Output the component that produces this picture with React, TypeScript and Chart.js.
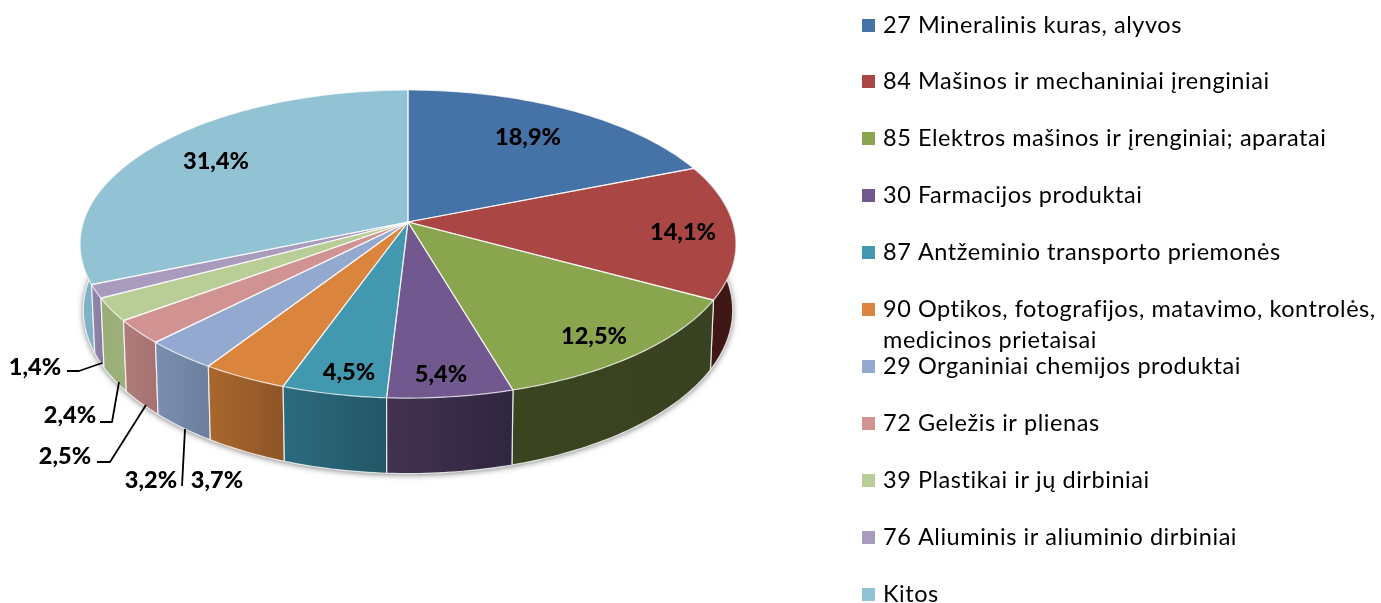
import React, { useEffect, useRef } from "react";
import { Chart, registerables } from "chart.js";

Chart.register(...registerables);

const categories: (string | string[])[] = [
  "27 Mineralinis kuras, alyvos",
  "84 Mašinos ir mechaniniai įrenginiai",
  "85 Elektros mašinos ir įrenginiai; aparatai",
  "30 Farmacijos produktai",
  "87 Antžeminio transporto priemonės",
  ["90 Optikos, fotografijos, matavimo, kontrolės,", "medicinos prietaisai"],
  "29 Organiniai chemijos produktai",
  "72 Geležis ir plienas",
  "39 Plastikai ir jų dirbiniai",
  "76 Aliuminis ir aliuminio dirbiniai",
  "Kitos",
];
const shares = [18.9, 14.1, 12.5, 5.4, 4.5, 3.7, 3.2, 2.5, 2.4, 1.4, 31.4];
const valueLabels = ["18,9%", "14,1%", "12,5%", "5,4%", "4,5%", "3,7%", "3,2%", "2,5%", "2,4%", "1,4%", "31,4%"];
const topColors = ["#4572A7", "#AA4643", "#89A54E", "#71588F", "#4198AF", "#DB843D", "#93A9CF", "#D19392", "#B9CD96", "#A99BBD", "#92C3D5"];
const wallLeft = ["#2f4d72", "#4e1f1d", "#3a4520", "#433252", "#2b6b7e", "#a9672d", "#7a8eb0", "#b07b7b", "#9aae78", "#9385ab", "#7fb2c5"];
const wallRight = ["#2f4d72", "#3f1715", "#384120", "#2f2640", "#235666", "#8f5527", "#6d7f9e", "#a87272", "#9db07a", "#8a7da2", "#7aa9bb"];

const labelSpots: [number, number][] = [
  [528, 137], [683, 232], [594, 336], [441, 374], [349, 372], [217, 480], [151, 480], [65, 456], [70, 415], [35, 367], [216, 161],
];
const leaders: [number, number][][] = [
  [[67, 371], [79, 371], [102, 363]],
  [[100, 422], [112, 422], [119, 382]],
  [[97, 462], [110, 462], [146, 405]],
  [[182, 486], [185, 429]],
];

const FONT = "Lato, Carlito, Calibri, sans-serif";

// perspective projection of the pie's disc
const CX = 408, CY = 222, AX = 324.6, BY = 150.9, K = 0.143;
const topPt = (t: number): [number, number] => {
  const u = Math.sin(t), v = Math.cos(t), w = 1 + K * v;
  return [CX + (AX * u) / w, CY - (BY * v) / w];
};
const botPt = (t: number): [number, number] => {
  const [x, y] = topPt(t);
  return [CX + (x - CX) * 0.99, 473.5 + (y - 398) * 1.06];
};
const toTheta = (a: number) => a + Math.PI / 2;
const samples = (a: number, b: number) => {
  const n = Math.max(2, Math.ceil(((b - a) * 180) / Math.PI));
  return Array.from({ length: n + 1 }, (_, i) => a + ((b - a) * i) / n);
};

const perspectivePie = {
  id: "perspectivePie",
  beforeDatasetsDraw(chart: any) {
    const ctx: CanvasRenderingContext2D = chart.ctx;
    const arcs = chart.getDatasetMeta(0).data as any[];
    const bg = chart.data.datasets[0].backgroundColor as string[];
    const lo = (70 * Math.PI) / 180, hi = (290 * Math.PI) / 180;

    // soft shadow under the body
    ctx.save();
    ctx.shadowColor = "rgba(0,0,0,0.55)";
    ctx.shadowBlur = 6;
    ctx.shadowOffsetX = 0;
    ctx.shadowOffsetY = 1;
    ctx.fillStyle = "#888";
    ctx.beginPath();
    samples(lo, hi).forEach((t, i) => {
      const p = botPt(t);
      i ? ctx.lineTo(p[0], p[1]) : ctx.moveTo(p[0], p[1]);
    });
    ctx.closePath();
    ctx.fill();
    ctx.restore();

    // outer walls, from the sides towards the front
    const order = arcs
      .map((arc, i) => ({ i, a: Math.max(toTheta(arc.startAngle), lo), b: Math.min(toTheta(arc.endAngle), hi) }))
      .filter((s) => s.b > s.a)
      .sort((p, q) => Math.abs((q.a + q.b) / 2 - Math.PI) - Math.abs((p.a + p.b) / 2 - Math.PI));
    order.forEach(({ i, a, b }) => {
      const ts = samples(a, b);
      const x0 = topPt(a)[0], x1 = topPt(b)[0];
      const g = ctx.createLinearGradient(Math.min(x0, x1), 0, Math.max(x0, x1), 0);
      g.addColorStop(0, wallLeft[i]);
      g.addColorStop(1, wallRight[i]);
      ctx.beginPath();
      ts.forEach((t, j) => {
        const p = topPt(t);
        j ? ctx.lineTo(p[0], p[1]) : ctx.moveTo(p[0], p[1]);
      });
      ts.slice().reverse().forEach((t) => {
        const p = botPt(t);
        ctx.lineTo(p[0], p[1]);
      });
      ctx.closePath();
      ctx.fillStyle = g;
      ctx.fill();
      ctx.strokeStyle = "rgba(255,255,255,0.8)";
      ctx.lineWidth = 1.2;
      ctx.beginPath();
      const startEdge = botPt(a), startTop = topPt(a), endEdge = botPt(b), endTop = topPt(b);
      if (a > lo) {
        ctx.moveTo(startTop[0], startTop[1]);
        ctx.lineTo(startEdge[0], startEdge[1]);
      }
      if (b < hi) {
        ctx.moveTo(endTop[0], endTop[1]);
        ctx.lineTo(endEdge[0], endEdge[1]);
      }
      ts.forEach((t, j) => {
        const p = botPt(t);
        j ? ctx.lineTo(p[0], p[1]) : ctx.moveTo(p[0], p[1]);
      });
      ctx.stroke();
    });

    // top face
    arcs.forEach((arc, i) => {
      const a = toTheta(arc.startAngle), b = toTheta(arc.endAngle);
      ctx.beginPath();
      ctx.moveTo(CX, CY);
      samples(a, b).forEach((t) => {
        const p = topPt(t);
        ctx.lineTo(p[0], p[1]);
      });
      ctx.closePath();
      ctx.fillStyle = bg[i];
      ctx.fill();
    });
    arcs.forEach((arc) => {
      const a = toTheta(arc.startAngle), b = toTheta(arc.endAngle);
      ctx.beginPath();
      ctx.moveTo(CX, CY);
      samples(a, b).forEach((t) => {
        const p = topPt(t);
        ctx.lineTo(p[0], p[1]);
      });
      ctx.closePath();
      ctx.strokeStyle = "rgba(255,255,255,0.75)";
      ctx.lineWidth = 1.2;
      ctx.lineJoin = "round";
      ctx.stroke();
    });
    return false;
  },
  afterDraw(chart: any) {
    const ctx: any = chart.ctx;
    ctx.save();

    // leader lines
    ctx.strokeStyle = "#000";
    ctx.lineWidth = 1.8;
    leaders.forEach((line) => {
      ctx.beginPath();
      line.forEach((p, i) => (i ? ctx.lineTo(p[0], p[1]) : ctx.moveTo(p[0], p[1])));
      ctx.stroke();
    });

    // value labels
    ctx.fillStyle = "#000";
    ctx.font = `900 23.5px ${FONT}`;
    ctx.textAlign = "center";
    ctx.textBaseline = "middle";
    valueLabels.forEach((s, i) => ctx.fillText(s, labelSpots[i][0], labelSpots[i][1]));

    // legend
    const bg = chart.data.datasets[0].backgroundColor as string[];
    ctx.font = `23.5px ${FONT}`;
    ctx.letterSpacing = "0.55px";
    ctx.textAlign = "left";
    (chart.data.labels as (string | string[])[]).forEach((lab, i) => {
      const y = 25 + 56.9 * i;
      ctx.fillStyle = bg[i];
      ctx.fillRect(862, Math.round(y - 6.5), 13, 13);
      ctx.fillStyle = "#000";
      const lines = Array.isArray(lab) ? lab : [lab];
      lines.forEach((l, j) => ctx.fillText(l, 883, y + j * 31));
    });
    ctx.restore();
  },
};

export default function App() {
  const ref = useRef<HTMLCanvasElement>(null);
  useEffect(() => {
    const chart = new Chart(ref.current!, {
      type: "pie",
      data: {
        labels: categories as any,
        datasets: [{ data: shares, backgroundColor: topColors, borderWidth: 0 }],
      },
      options: {
        animation: false,
        responsive: false,
        plugins: { legend: { display: false }, tooltip: { enabled: false } },
      },
      plugins: [perspectivePie as any],
    });
    return () => chart.destroy();
  }, []);
  return (
    <div style={{ position: "fixed", left: 0, top: 0, width: 1381, height: 603, background: "#fff" }}>
      <canvas ref={ref} width={1381} height={603} style={{ display: "block" }} />
    </div>
  );
}
